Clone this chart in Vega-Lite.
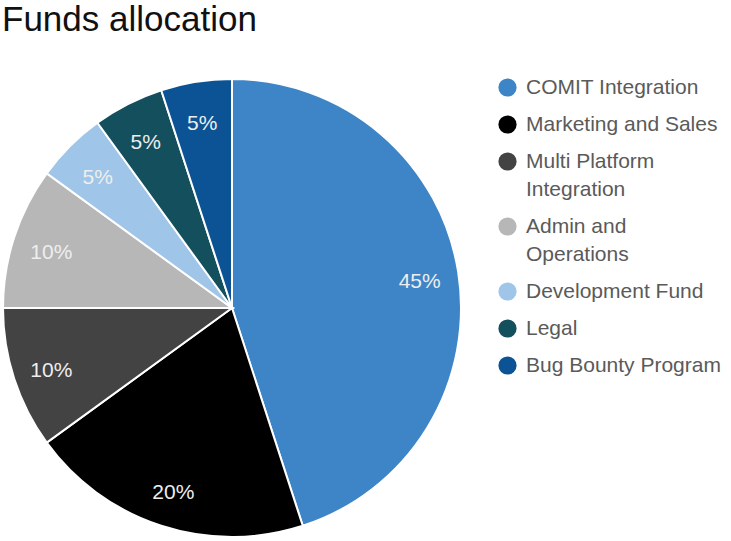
{
  "$schema": "https://vega.github.io/schema/vega-lite/v6.json",
  "width": 460,
  "height": 460,
  "autosize": "none",
  "padding": {"left": 2, "top": 78, "right": 269, "bottom": 3},
  "background": "white",
  "config": {
    "style": {"guide-label": {"lineHeight": 28}}
  },
  "title": {
    "text": "Funds allocation",
    "anchor": "start",
    "frame": "group",
    "offset": 37,
    "fontSize": 35,
    "fontWeight": "normal",
    "font": "Liberation Sans",
    "color": "#111111"
  },
  "data": {
    "values": [
      {"category": "COMIT Integration", "share": 45, "rank": 1},
      {"category": "Marketing and Sales", "share": 20, "rank": 2},
      {"category": "Multi Platform Integration", "share": 10, "rank": 3},
      {"category": "Admin and Operations", "share": 10, "rank": 4},
      {"category": "Development Fund", "share": 5, "rank": 5},
      {"category": "Legal", "share": 5, "rank": 6},
      {"category": "Bug Bounty Program", "share": 5, "rank": 7}
    ]
  },
  "transform": [
    {"calculate": "datum.share + '%'", "as": "label"}
  ],
  "encoding": {
    "theta": {"field": "share", "type": "quantitative", "stack": true},
    "order": {"field": "rank", "type": "quantitative"},
    "color": {
      "field": "category",
      "type": "nominal",
      "sort": null,
      "scale": {
        "domain": ["COMIT Integration", "Marketing and Sales", "Multi Platform Integration", "Admin and Operations", "Development Fund", "Legal", "Bug Bounty Program"],
        "range": ["#3d85c6", "#000000", "#434343", "#b7b7b7", "#9fc5e8", "#134f5c", "#0b5394"]
      },
      "legend": {
        "title": null,
        "orient": "none",
        "legendX": 495,
        "legendY": -1,
        "symbolType": "circle",
        "symbolSize": 330,
        "symbolStrokeWidth": 0,
        "labelFont": "Liberation Sans",
        "labelFontSize": 21,
        "labelColor": "#5a5a5a",
        "labelLimit": 300,
        "labelOffset": 8,
        "rowPadding": 15,
        "labelExpr": "datum.label == 'Multi Platform Integration' ? ['Multi Platform', 'Integration'] : datum.label == 'Admin and Operations' ? ['Admin and', 'Operations'] : datum.label",
        "encode": {
          "labels": {"enter": {"lineHeight": {"value": 28}}, "update": {"lineHeight": {"value": 28}}}
        }
      }
    }
  },
  "layer": [
    {
      "mark": {"type": "arc", "radius": 229, "stroke": "white", "strokeWidth": 2}
    },
    {
      "mark": {"type": "text", "radius": 190, "dy": 4, "fontSize": 21, "font": "Liberation Sans"},
      "encoding": {
        "text": {"field": "label", "type": "nominal"},
        "color": {"value": "#eeeeee"}
      }
    }
  ]
}
